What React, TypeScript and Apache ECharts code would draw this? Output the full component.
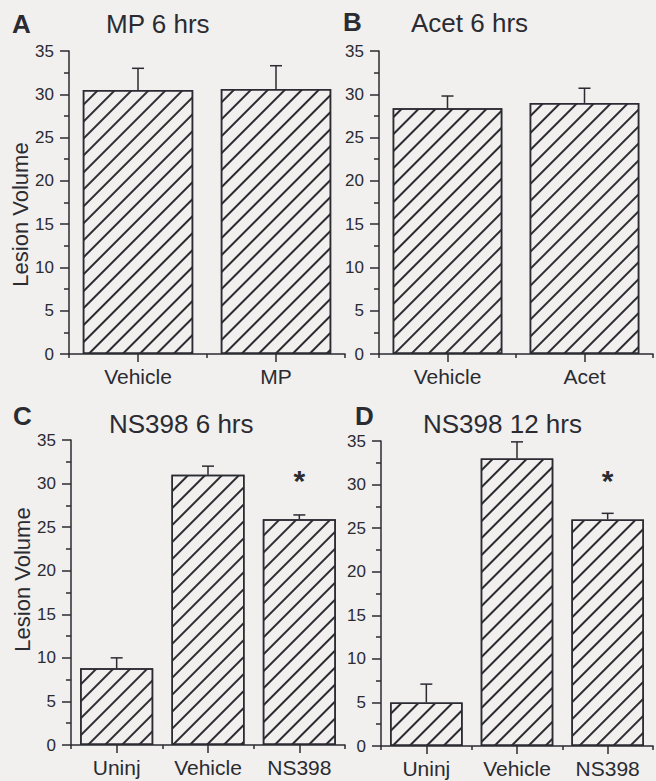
import { useEffect, useRef } from 'react';
import * as echarts from 'echarts';

// Lesion volume per treatment group (mean and upper SEM)
const categoriesA = ['Vehicle', 'MP'];
const valuesA = [30.5, 30.6];
const errorsA = [2.5, 2.7];

const categoriesB = ['Vehicle', 'Acet'];
const valuesB = [28.4, 29.0];
const errorsB = [1.4, 1.7];

const categoriesC = ['Uninj', 'Vehicle', 'NS398'];
const valuesC = [8.8, 31.0, 25.9];
const errorsC = [1.2, 1.0, 0.5];
const significantC = [false, false, true];

const categoriesD = ['Uninj', 'Vehicle', 'NS398'];
const valuesD = [5.0, 33.0, 26.0];
const errorsD = [2.1, 1.9, 0.7];
const significantD = [false, false, true];

const panelLetters = ['A', 'B', 'C', 'D'];
const panelTitles = ['MP 6 hrs', 'Acet 6 hrs', 'NS398 6 hrs', 'NS398 12 hrs'];
const yAxisTitle = 'Lesion Volume';
const yMin = 0;
const yMax = 35;
const yStep = 5;

const ink = '#2b2b32';
const paper = '#f1f0ee';
const font = '"Liberation Sans", Arial, Helvetica, sans-serif';

const panels = [
  { cats: categoriesA, vals: valuesA, errs: errorsA, sig: null as boolean[] | null,
    grid: { left: 69, top: 51, width: 276, height: 303 }, showName: true, namePad: [0, 24, 0, 0] },
  { cats: categoriesB, vals: valuesB, errs: errorsB, sig: null as boolean[] | null,
    grid: { left: 379, top: 51, width: 274, height: 303 }, showName: false, namePad: [0, 0, 0, 0] },
  { cats: categoriesC, vals: valuesC, errs: errorsC, sig: significantC,
    grid: { left: 71, top: 440, width: 274, height: 305 }, showName: true, namePad: [0, 0, 0, 26] },
  { cats: categoriesD, vals: valuesD, errs: errorsD, sig: significantD,
    grid: { left: 381, top: 441, width: 272, height: 305 }, showName: false, namePad: [0, 0, 0, 0] },
];

const letterPos = [
  { left: 12, top: 12 },
  { left: 343, top: 10 },
  { left: 13, top: 404 },
  { left: 355, top: 404 },
];
const titlePos = [
  { left: 106, top: 11 },
  { left: 411, top: 10 },
  { left: 109, top: 411 },
  { left: 423, top: 411 },
];

// forward-slash hatching inside the bars
const hatch = {
  symbol: 'rect',
  symbolSize: 1,
  rotation: -Math.PI / 4,
  dashArrayX: [1, 0],
  dashArrayY: [1.2, 9.3],
  color: ink,
  backgroundColor: paper,
};

const lineStyle = { color: ink, width: 1.5 };

function buildOption() {
  const grid = panels.map((p) => ({ ...p.grid, containLabel: false }));
  const xAxis: any[] = [];
  const yAxis: any[] = [];
  const series: any[] = [];

  panels.forEach((p, i) => {
    // category axis with ticks under each bar
    xAxis.push({
      gridIndex: i,
      type: 'category',
      position: 'bottom',
      data: p.cats,
      axisLine: { show: true, lineStyle },
      axisTick: { show: true, alignWithLabel: true, length: 8, lineStyle },
      axisLabel: { color: ink, fontSize: 21, fontFamily: font, margin: 12, interval: 0 },
      splitLine: { show: false },
    });
    // companion axis carrying the short ticks between categories
    xAxis.push({
      gridIndex: i,
      type: 'category',
      position: 'bottom',
      data: p.cats,
      axisLine: { show: false },
      axisTick: { show: true, alignWithLabel: false, length: 4, lineStyle },
      axisLabel: { show: false },
      splitLine: { show: false },
    });
    yAxis.push({
      gridIndex: i,
      type: 'value',
      min: yMin,
      max: yMax,
      interval: yStep,
      axisLine: { show: true, lineStyle },
      axisTick: { show: true, length: 9, lineStyle },
      minorTick: { show: true, splitNumber: 2, length: 5, lineStyle },
      splitLine: { show: false },
      minorSplitLine: { show: false },
      axisLabel: { color: ink, fontSize: 17, fontFamily: font, margin: 15 },
      name: p.showName ? yAxisTitle : '',
      nameLocation: 'middle',
      nameGap: 29,
      nameTextStyle: { color: ink, fontSize: 22, fontFamily: font, padding: p.namePad },
    });

    series.push({
      type: 'bar',
      xAxisIndex: 2 * i,
      yAxisIndex: i,
      barCategoryGap: '20%',
      itemStyle: { color: paper, borderColor: ink, borderWidth: 1.5, decal: hatch },
      label: {
        show: false,
        position: 'top',
        distance: 24,
        formatter: '*',
        color: ink,
        fontSize: 30,
        fontWeight: 'bold',
        fontFamily: font,
      },
      data: p.vals.map((v, k) => ({
        value: v,
        label: p.sig && p.sig[k] ? { show: true } : undefined,
      })),
      z: 2,
    });

    series.push({
      type: 'custom',
      xAxisIndex: 2 * i,
      yAxisIndex: i,
      data: p.vals.map((v, k) => [k, v, p.errs[k]]),
      renderItem: (_params: any, api: any) => {
        const idx = api.value(0);
        const mean = api.value(1);
        const err = api.value(2);
        const base = api.coord([idx, mean]);
        const top = api.coord([idx, mean + err]);
        const style = { stroke: ink, lineWidth: 1.5 };
        return {
          type: 'group',
          children: [
            { type: 'line', shape: { x1: base[0], y1: base[1], x2: top[0], y2: top[1] }, style },
            { type: 'line', shape: { x1: top[0] - 6, y1: top[1], x2: top[0] + 6, y2: top[1] }, style },
          ],
        };
      },
      z: 3,
    });
  });

  const title: any[] = [];
  panelLetters.forEach((t, i) => {
    title.push({
      text: t,
      ...letterPos[i],
      padding: 0,
      textStyle: { color: ink, fontSize: 26, lineHeight: 24, fontWeight: 'bold', fontFamily: font },
    });
  });
  panelTitles.forEach((t, i) => {
    title.push({
      text: t,
      ...titlePos[i],
      padding: 0,
      textStyle: { color: ink, fontSize: 26, fontWeight: 'normal', fontFamily: font },
    });
  });

  return {
    animation: false,
    backgroundColor: paper,
    title,
    grid,
    xAxis,
    yAxis,
    series,
    tooltip: { show: false },
  };
}

export default function App() {
  const ref = useRef<HTMLDivElement>(null);
  useEffect(() => {
    document.body.style.margin = '0';
    document.body.style.background = paper;
    const chart = echarts.init(ref.current!, null, { renderer: 'svg' });
    chart.setOption(buildOption() as any);
    return () => chart.dispose();
  }, []);
  return <div ref={ref} style={{ width: 656, height: 781 }} />;
}
